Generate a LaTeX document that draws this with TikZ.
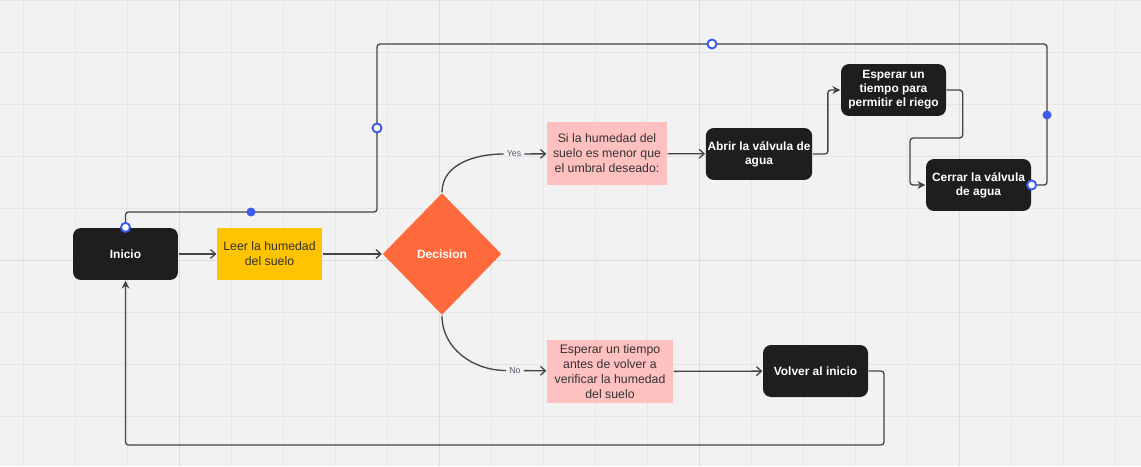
\documentclass[tikz,border=0pt]{standalone}
\usepackage{fontspec}
\setmainfont{Liberation Sans}
\usepackage{xcolor}
\usepackage{tikz}
\usetikzlibrary{shapes, arrows.meta, positioning, calc}
\definecolor{canvasgray}{RGB}{242, 242, 242}
\definecolor{gridgray}{RGB}{229, 229, 229}
\definecolor{gridmajor}{RGB}{220, 220, 220}
\definecolor{boxblack}{RGB}{30, 30, 30}
\definecolor{leeryellow}{RGB}{255, 195, 0}
\definecolor{decorange}{RGB}{255, 106, 60}
\definecolor{notepink}{RGB}{255, 192, 192}
\definecolor{inkgray}{RGB}{51, 51, 51}
\definecolor{linegray}{RGB}{68, 68, 68}
\definecolor{handleblue}{RGB}{60, 90, 240}
\definecolor{labelgray}{RGB}{90, 90, 115}

\begin{document}
\begin{tikzpicture}[x=0.02cm, y=-0.02cm, line width=0.75pt,
    darkbox/.style={fill=boxblack, rounded corners=0.16cm, text=white, align=center,
        font=\fontsize{6.8}{8}\selectfont\bfseries, minimum width=2.1cm, minimum height=1.04cm, inner sep=1pt},
    readbox/.style={fill=leeryellow, text=inkgray, align=center,
        font=\fontsize{7}{8.5}\selectfont, minimum width=2.1cm, minimum height=1.04cm, inner sep=1pt},
    notebox/.style={fill=notepink, text=inkgray, align=center,
        font=\fontsize{7}{8.5}\selectfont, minimum height=1.26cm, inner sep=1pt},
    decbox/.style={diamond, fill=decorange, text=white, font=\fontsize{6.8}{8}\selectfont\bfseries,
        minimum width=2.38cm, minimum height=2.44cm, inner sep=0pt},
    edgelabel/.style={text=labelgray, font=\fontsize{5}{6}\selectfont, inner sep=1.5pt},
    conn/.style={draw=linegray, rounded corners=0.06cm},
    openarrow/.style={-{Straight Barb[length=2.8pt, width=5pt]}},
    solidarrow/.style={-{Stealth[length=4.5pt, width=4.5pt]}},
    hollowhandle/.style={fill=white, draw=handleblue, line width=1.1pt},
    dothandle/.style={fill=handleblue, draw=none}]

    \useasboundingbox (0,0) rectangle (1141,466);

    % Draw canvas and grid
    \fill[canvasgray] (0,0) rectangle (1141,466);
    \foreach \gx in {23.5,75.5,...,1141} {
        \draw[gridgray, line width=0.55pt] (\gx,0) -- (\gx,466);
    }
    \foreach \gy in {0.7,52.7,...,466} {
        \draw[gridgray, line width=0.55pt] (0,\gy) -- (1141,\gy);
    }
    \foreach \gx in {179.5,439.5,699.5,959.5} {
        \draw[gridmajor, line width=0.55pt] (\gx,0) -- (\gx,466);
    }
    \draw[gridmajor, line width=0.55pt] (0,260.7) -- (1141,260.7);

    % Draw nodes
    \node[darkbox] (inicio) at (125.5,254) {Inicio};
    \node[readbox] (leer) at (269.5,254) {Leer la humedad\\del suelo};
    \node[decbox] (dec) at (442,254) {Decision};
    \node[notebox, minimum width=2.4cm] (si) at (607,153.5) {Si la humedad del\\suelo es menor que\\el umbral deseado:};
    \node[darkbox] (abrir) at (759,154) {Abrir la v\'alvula de\\agua};
    \node[darkbox] (espera) at (893.5,90) {Esperar un\\tiempo para\\permitir el riego};
    \node[darkbox] (cerrar) at (978.5,185) {Cerrar la v\'alvula\\de agua};
    \node[notebox, minimum width=2.52cm] (antes) at (610,371.5) {Esperar un tiempo\\antes de volver a\\verificar la humedad\\del suelo};
    \node[darkbox] (volver) at (815.5,371) {Volver al inicio};

    % Edge labels
    \node[edgelabel] (yes) at (514,154) {Yes};
    \node[edgelabel] (no) at (515,370.5) {No};

    % Bend points
    \coordinate (bend) at (910,138);
    \coordinate (topR) at (1047,44);
    \coordinate (topL) at (377,44);
    \coordinate (midL) at (377,212);
    \coordinate (botR) at (884,445);

    % Draw connectors
    \draw[conn, openarrow] (inicio) -- (leer);
    \draw[conn, openarrow] (leer) -- (dec);
    \draw[conn] (dec.north) to[out=90, in=180] (yes.west);
    \draw[conn, openarrow] (yes) -- (si);
    \draw[conn] (dec.south) to[out=-90, in=180] (no.west);
    \draw[conn, openarrow] (no) -- (antes);
    \draw[conn, openarrow] (si) -- (abrir);
    \draw[conn, openarrow] (antes) -- (volver);
    \draw[conn, solidarrow] (abrir.east) -- ++(15,0) |- (espera.west);
    \draw[conn, solidarrow] (espera.east) -- ++(16,0) |- (bend) |- (cerrar.west);
    \draw[conn] (cerrar.east) -| (topR) -- (topL) -- (midL) -| (inicio.north);
    \draw[conn, solidarrow] (volver.east) -| (botR) -| (inicio.south);

    % Draw handles
    \foreach \h in {(cerrar.east), (712,44), (377,128), (inicio.north)} {
        \filldraw[hollowhandle] \h circle (0.09cm);
    }
    \foreach \h in {(1047,115), (251,212)} {
        \fill[dothandle] \h circle (0.09cm);
    }
\end{tikzpicture}
\end{document}
